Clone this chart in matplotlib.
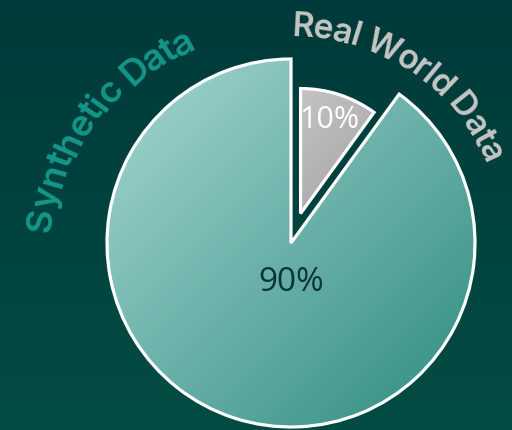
import numpy as np
import matplotlib
matplotlib.use('Agg')
import matplotlib.pyplot as plt
from matplotlib.colors import LinearSegmentedColormap
from matplotlib.textpath import TextPath
from matplotlib.font_manager import FontProperties

# data
labels = ['Real World Data', 'Synthetic Data']
shares = [10, 90]
pct_text = ['10%', '90%']

label_colors = ['#c6c6c6', '#149689']
slice_grads = [('#d8d8d8', '#858585'), ('#a6d6d1', '#2e8c80')]
pct_colors = ['white', '#0b3438']

fig = plt.figure(figsize=(5.12, 4.30), dpi=100)
ax = fig.add_axes([0, 0, 1, 1])

# background gradient (dark at top)
bg = LinearSegmentedColormap.from_list('bg', ['#034c43', '#003a3a'])
ax.imshow(np.linspace(0, 1, 256).reshape(-1, 1), cmap=bg, extent=[0, 512, 0, 430],
          origin='lower', aspect='auto', zorder=0)

R = 184
# explode is in data units here (pie doesn't scale it by radius)
wedges, _ = ax.pie(shares, startangle=90, counterclock=False, radius=R,
                   center=(291, 187), explode=[31, 0],
                   wedgeprops=dict(facecolor='none', edgecolor='white', linewidth=2.3, zorder=3))
wedges[0].set_radius(125)

# gradient fill clipped to each wedge
for w, (c1, c2) in zip(wedges, slice_grads):
    cx, cy = w.center
    r = w.r
    xx, yy = np.meshgrid(np.linspace(0, 1, 200), np.linspace(0, 1, 200))
    t = (xx + (1 - yy)) / 2
    cm = LinearSegmentedColormap.from_list('g', [c1, c2])
    im = ax.imshow(t, cmap=cm, extent=[cx - r, cx + r, cy - r, cy + r], origin='lower',
                   aspect='auto', zorder=2, interpolation='bilinear')
    im.set_clip_path(w)

# percentage labels
pct_offsets = [(0.23, 0.75), (0.0, -0.215)]
pct_sizes = [22, 24]
for w, txt, col, (dx, dy), fs in zip(wedges, pct_text, pct_colors, pct_offsets, pct_sizes):
    cx, cy = w.center
    ax.text(cx + dx * w.r, cy + dy * w.r, txt, color=col, fontsize=fs, fontfamily='Open Sans',
            fontweight='normal', ha='center', va='center', zorder=4)


def curved(text, a0, a1, r0, r1, color, center=(291, 187)):
    fp = FontProperties(family='Inter', weight='semibold', size=10)
    base = TextPath((0, 0), 'nn', prop=fp).get_extents().width
    adv = np.array([TextPath((0, 0), 'n' + ch + 'n', prop=fp).get_extents().width - base
                    for ch in text])
    cen = np.cumsum(adv) - adv / 2
    natural = cen[-1] - cen[0]
    arc = np.radians(abs(a1 - a0)) * (r0 + r1) / 2
    fs = 10 * arc / natural * 72 / 100
    tt = (cen - cen[0]) / natural
    for ch, t in zip(text, tt):
        if ch == ' ':
            continue
        a = a0 + t * (a1 - a0)
        r = r0 + t * (r1 - r0)
        x = center[0] + r * np.cos(np.radians(a))
        y = center[1] + r * np.sin(np.radians(a))
        ax.text(x, y, ch, rotation=a - 90, rotation_mode='anchor', ha='center',
                va='center_baseline', color=color, fontsize=fs, fontfamily='Inter',
                fontweight='semibold', zorder=4)


curved(labels[1], 174.8, 118.5, 254, 229, label_colors[1])
curved(labels[0], 86.9, 24.7, 219, 222, label_colors[0])

ax.set_xlim(0, 512)
ax.set_ylim(0, 430)
ax.set_aspect('auto')
ax.axis('off')

fig.savefig('out.png', dpi=100)
